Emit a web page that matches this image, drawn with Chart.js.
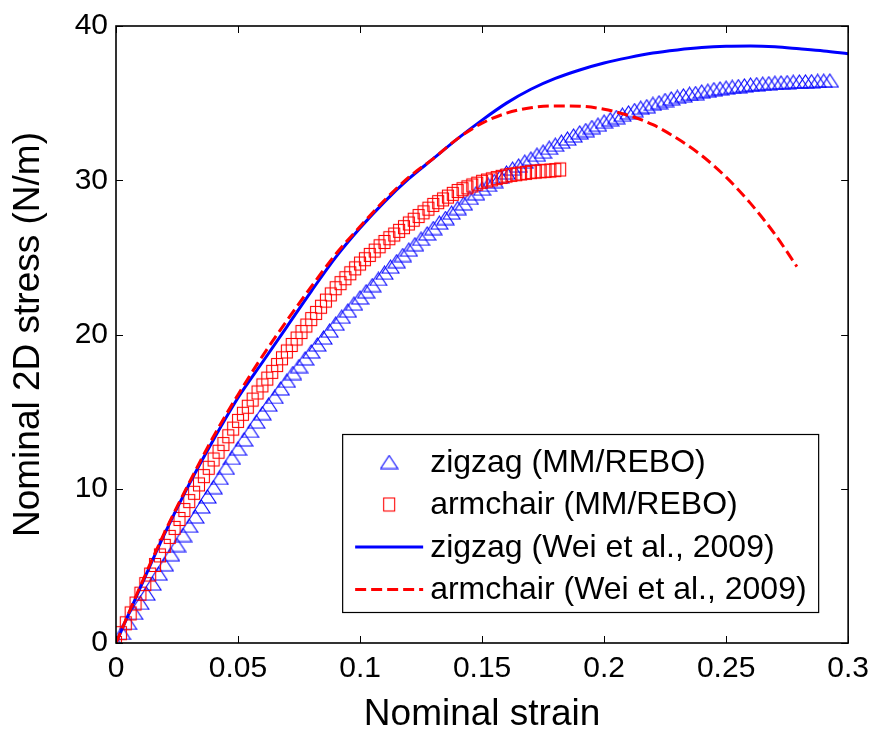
<!DOCTYPE html>
<html>
<head>
<meta charset="utf-8">
<title>Nominal stress-strain</title>
<script src="https://cdn.jsdelivr.net/npm/chart.js@4.4.1/dist/chart.umd.min.js"></script>
<style>
    html, body { margin: 0; padding: 0; background: #ffffff; }
    #wrap { position: relative; width: 877px; height: 733px; }
</style>
</head>
<body>
<div id="wrap"><canvas id="stressChart"></canvas></div>
<script>
const xTickLabels = ['0', '0.05', '0.1', '0.15', '0.2', '0.25', '0.3'];

const seriesLabels = [
    'zigzag (MM/REBO)',
    'armchair (MM/REBO)',
    'zigzag (Wei et al., 2009)',
    'armchair (Wei et al., 2009)'
];

// zigzag, MM/REBO (triangles)
const zigzagMmStrain = [
    0, 0.0025, 0.005, 0.0075, 0.01, 0.0125, 0.015, 0.0175, 0.02, 0.0225,
    0.025, 0.0275, 0.03, 0.0325, 0.035, 0.0375, 0.04, 0.0425, 0.045, 0.0475,
    0.05, 0.0525, 0.055, 0.0575, 0.06, 0.0625, 0.065, 0.0675, 0.07, 0.0725,
    0.075, 0.0775, 0.08, 0.0825, 0.085, 0.0875, 0.09, 0.0925, 0.095, 0.0975,
    0.1, 0.1025, 0.105, 0.1075, 0.11, 0.1125, 0.115, 0.1175, 0.12, 0.1225,
    0.125, 0.1275, 0.13, 0.1325, 0.135, 0.1375, 0.14, 0.1425, 0.145, 0.1475,
    0.15, 0.1525, 0.155, 0.1575, 0.16, 0.1625, 0.165, 0.1675, 0.17, 0.1725,
    0.175, 0.1775, 0.18, 0.1825, 0.185, 0.1875, 0.19, 0.1925, 0.195, 0.1975,
    0.2, 0.2025, 0.205, 0.2075, 0.21, 0.2125, 0.215, 0.2175, 0.22, 0.2225,
    0.225, 0.2275, 0.23, 0.2325, 0.235, 0.2375, 0.24, 0.2425, 0.245, 0.2475,
    0.25, 0.2525, 0.255, 0.2575, 0.26, 0.2625, 0.265, 0.2675, 0.27, 0.2725,
    0.275, 0.2775, 0.28, 0.2825, 0.285, 0.2875, 0.29, 0.2925
];
const zigzagMmStress = [
    0, 0.65, 1.3, 1.95, 2.6, 3.2, 3.85, 4.5, 5.1, 5.75,
    6.35, 7.0, 7.6, 8.2, 8.85, 9.5, 10.1, 10.7, 11.35, 12.0,
    12.6, 13.2, 13.75, 14.35, 14.9, 15.45, 15.95, 16.5, 17.0, 17.5,
    17.95, 18.45, 18.9, 19.35, 19.8, 20.25, 20.7, 21.15, 21.55, 22.0,
    22.4, 22.8, 23.2, 23.6, 24.0, 24.4, 24.75, 25.15, 25.5, 25.85,
    26.2, 26.55, 26.9, 27.25, 27.55, 27.9, 28.2, 28.5, 28.85, 29.15,
    29.45, 29.7, 29.95, 30.25, 30.5, 30.75, 30.95, 31.2, 31.4, 31.65,
    31.85, 32.1, 32.3, 32.5, 32.7, 32.9, 33.1, 33.25, 33.45, 33.6,
    33.8, 33.95, 34.1, 34.25, 34.4, 34.55, 34.7, 34.8, 34.95, 35.05,
    35.2, 35.3, 35.4, 35.5, 35.6, 35.65, 35.75, 35.8, 35.9, 35.95,
    36.0, 36.05, 36.1, 36.15, 36.2, 36.23, 36.26, 36.29, 36.32, 36.34,
    36.36, 36.38, 36.4, 36.41, 36.42, 36.44, 36.45, 36.46
];

// armchair, MM/REBO (squares)
const armchairMmStrain = [
    0, 0.002, 0.004, 0.006, 0.008, 0.01, 0.012, 0.014, 0.016, 0.018,
    0.02, 0.022, 0.024, 0.026, 0.028, 0.03, 0.032, 0.034, 0.036, 0.038,
    0.04, 0.042, 0.044, 0.046, 0.048, 0.05, 0.052, 0.054, 0.056, 0.058,
    0.06, 0.062, 0.064, 0.066, 0.068, 0.07, 0.072, 0.074, 0.076, 0.078,
    0.08, 0.082, 0.084, 0.086, 0.088, 0.09, 0.092, 0.094, 0.096, 0.098,
    0.1, 0.102, 0.104, 0.106, 0.108, 0.11, 0.112, 0.114, 0.116, 0.118,
    0.12, 0.122, 0.124, 0.126, 0.128, 0.13, 0.132, 0.134, 0.136, 0.138,
    0.14, 0.142, 0.144, 0.146, 0.148, 0.15, 0.152, 0.154, 0.156, 0.158,
    0.16, 0.162, 0.164, 0.166, 0.168, 0.17, 0.172, 0.174, 0.176, 0.178,
    0.18, 0.182
];
const armchairMmStress = [
    0, 0.64, 1.28, 1.92, 2.56, 3.2, 3.82, 4.44, 5.06, 5.68,
    6.3, 6.88, 7.46, 8.04, 8.62, 9.2, 9.74, 10.28, 10.82, 11.36,
    11.9, 12.4, 12.9, 13.4, 13.9, 14.4, 14.86, 15.32, 15.78, 16.24,
    16.7, 17.14, 17.58, 18.02, 18.46, 18.9, 19.32, 19.74, 20.16, 20.58,
    21.0, 21.4, 21.8, 22.2, 22.6, 23.0, 23.33, 23.65, 23.97, 24.29,
    24.6, 24.88, 25.16, 25.44, 25.72, 26.0, 26.24, 26.48, 26.72, 26.96,
    27.2, 27.44, 27.68, 27.92, 28.16, 28.4, 28.58, 28.76, 28.94, 29.12,
    29.3, 29.42, 29.54, 29.66, 29.78, 29.9, 29.98, 30.06, 30.14, 30.22,
    30.3, 30.35, 30.39, 30.44, 30.48, 30.53, 30.56, 30.58, 30.61, 30.63,
    30.66, 30.7
];

// Wei et al., 2009 (continuum curves)
const zigzagWeiStrain = [
    0, 0.01, 0.02, 0.03, 0.04, 0.05, 0.06, 0.07, 0.08, 0.09,
    0.1, 0.11, 0.12, 0.13, 0.14, 0.15, 0.16, 0.17, 0.18, 0.19,
    0.2, 0.21, 0.22, 0.23, 0.24, 0.25, 0.26, 0.27, 0.28, 0.29, 0.3
];
const zigzagWeiStress = [
    0, 3.6, 7.1, 10.3, 13.2, 15.9, 18.2, 20.5, 22.8, 25.0,
    26.9, 28.6, 30.1, 31.4, 32.7, 33.9, 35.0, 35.9, 36.6, 37.15,
    37.6, 37.95, 38.25, 38.45, 38.6, 38.68, 38.7, 38.65, 38.52, 38.38, 38.2
];
const armchairWeiStrain = [
    0, 0.01, 0.02, 0.03, 0.04, 0.05, 0.06, 0.07, 0.08, 0.09,
    0.1, 0.11, 0.12, 0.13, 0.14, 0.15, 0.16, 0.17, 0.18, 0.19,
    0.2, 0.21, 0.22, 0.23, 0.24, 0.25, 0.26, 0.27, 0.279
];
const armchairWeiStress = [
    0, 3.7, 7.2, 10.4, 13.4, 16.1, 18.6, 20.9, 23.1, 25.2,
    27.0, 28.7, 30.2, 31.4, 32.7, 33.7, 34.35, 34.7, 34.82, 34.8,
    34.6, 34.2, 33.6, 32.7, 31.6, 30.2, 28.5, 26.5, 24.4
];

const BLUE = '#0000ff';
const RED = '#ff0000';
const FONT = "'Liberation Sans', Arial, Helvetica, sans-serif";

Chart.defaults.font.family = FONT;
Chart.defaults.color = '#000000';

function toPoints(xs, ys) {
    return xs.map((x, i) => ({ x: x, y: ys[i] }));
}

// MATLAB-like open markers
function makeTriangle() {
    const c = document.createElement('canvas');
    c.width = 19; c.height = 15;
    const g = c.getContext('2d');
    g.strokeStyle = BLUE;
    g.lineWidth = 1.1;
    g.beginPath();
    g.moveTo(9.5, 1);
    g.lineTo(18, 14);
    g.lineTo(1, 14);
    g.closePath();
    g.stroke();
    return c;
}

function makeSquare() {
    const c = document.createElement('canvas');
    c.width = 14; c.height = 16;
    const g = c.getContext('2d');
    g.strokeStyle = RED;
    g.lineWidth = 1.1;
    g.strokeRect(1.5, 1.5, 11, 13);
    return c;
}

const triangleMarker = makeTriangle();
const squareMarker = makeSquare();

// box, inward ticks on all four sides
const framePlugin = {
    id: 'frame',
    afterDatasetsDraw(chart) {
        const { ctx, chartArea: a, scales: { x, y } } = chart;
        const len = 7;
        ctx.save();
        ctx.strokeStyle = '#000000';
        ctx.lineWidth = 1;
        ctx.beginPath();
        x.ticks.forEach(t => {
            const px = Math.round(x.getPixelForValue(t.value)) + 0.5;
            ctx.moveTo(px, a.bottom); ctx.lineTo(px, a.bottom - len);
            ctx.moveTo(px, a.top); ctx.lineTo(px, a.top + len);
        });
        y.ticks.forEach(t => {
            const py = Math.round(y.getPixelForValue(t.value)) + 0.5;
            ctx.moveTo(a.left, py); ctx.lineTo(a.left + len, py);
            ctx.moveTo(a.right, py); ctx.lineTo(a.right - len, py);
        });
        ctx.stroke();
        ctx.lineWidth = 1.6;
        ctx.strokeRect(a.left, a.top, a.right - a.left, a.bottom - a.top);
        ctx.restore();
    }
};

// boxed legend in lower right of the axes
const boxLegendPlugin = {
    id: 'boxLegend',
    afterDraw(chart) {
        const { ctx, chartArea: a } = chart;
        const left = a.right - 506, top = a.bottom - 209;
        const w = 476, h = 178;
        ctx.save();
        ctx.fillStyle = '#ffffff';
        ctx.fillRect(left, top, w, h);
        ctx.strokeStyle = '#000000';
        ctx.lineWidth = 1.2;
        ctx.strokeRect(left + 0.5, top + 0.5, w, h);

        const sampleX = left + 47;
        const textX = left + 88;
        ctx.font = '32px ' + FONT;
        ctx.textBaseline = 'middle';
        chart.data.datasets.forEach((ds, i) => {
            const rowY = top + 28 + i * 42.5;
            if (ds.showLine) {
                ctx.strokeStyle = ds.borderColor;
                ctx.lineWidth = ds.borderWidth;
                ctx.setLineDash(ds.borderDash || []);
                ctx.beginPath();
                ctx.moveTo(sampleX - 34, rowY);
                ctx.lineTo(sampleX + 34, rowY);
                ctx.stroke();
                ctx.setLineDash([]);
            } else {
                const img = ds.pointStyle;
                ctx.drawImage(img, sampleX - img.width / 2, rowY - img.height / 2);
            }
            ctx.fillStyle = '#000000';
            ctx.fillText(ds.label, textX, rowY + 1);
        });
        ctx.restore();
    }
};

new Chart(document.getElementById('stressChart'), {
    type: 'scatter',
    data: {
        datasets: [
            {
                label: seriesLabels[0],
                data: toPoints(zigzagMmStrain, zigzagMmStress),
                showLine: false,
                pointStyle: triangleMarker,
                borderColor: BLUE,
                backgroundColor: BLUE,
                order: 4
            },
            {
                label: seriesLabels[1],
                data: toPoints(armchairMmStrain, armchairMmStress),
                showLine: false,
                pointStyle: squareMarker,
                borderColor: RED,
                backgroundColor: RED,
                order: 3
            },
            {
                label: seriesLabels[2],
                data: toPoints(zigzagWeiStrain, zigzagWeiStress),
                showLine: true,
                borderColor: BLUE,
                borderWidth: 3,
                pointRadius: 0,
                cubicInterpolationMode: 'monotone',
                order: 2
            },
            {
                label: seriesLabels[3],
                data: toPoints(armchairWeiStrain, armchairWeiStress),
                showLine: true,
                borderColor: RED,
                borderWidth: 3,
                borderDash: [11, 5],
                pointRadius: 0,
                cubicInterpolationMode: 'monotone',
                order: 1
            }
        ]
    },
    options: {
        responsive: true,
        maintainAspectRatio: false,
        animation: false,
        devicePixelRatio: 1,
        layout: { padding: { left: 0, top: 22, right: 24, bottom: 0 } },
        plugins: {
            legend: { display: false },
            tooltip: { enabled: false }
        },
        scales: {
            x: {
                type: 'linear',
                min: 0,
                max: 0.3,
                grid: { display: false, drawTicks: false },
                border: { display: false },
                ticks: {
                    stepSize: 0.05,
                    autoSkip: false,
                    maxRotation: 0,
                    padding: 8,
                    color: '#000000',
                    font: { size: 30 },
                    callback: (val, i) => xTickLabels[i]
                },
                title: {
                    display: true,
                    text: 'Nominal strain',
                    color: '#000000',
                    font: { size: 37, lineHeight: 1 },
                    padding: { top: 0, bottom: 0 }
                },
                afterFit: s => { s.height = 90; }
            },
            y: {
                min: 0,
                max: 40,
                grid: { display: false, drawTicks: false },
                border: { display: false },
                ticks: {
                    stepSize: 10,
                    padding: 8,
                    color: '#000000',
                    font: { size: 30 }
                },
                title: {
                    display: true,
                    text: 'Nominal 2D stress (N/m)',
                    color: '#000000',
                    font: { size: 37, lineHeight: 1.2 },
                    padding: { top: 7, bottom: 0 }
                },
                afterFit: s => { s.width = 116; }
            }
        }
    },
    plugins: [framePlugin, boxLegendPlugin]
});
</script>
</body>
</html>
